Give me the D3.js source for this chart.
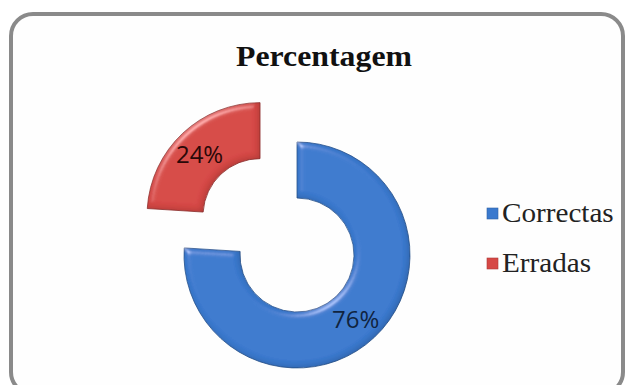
<!DOCTYPE html>
<html>
<head>
<meta charset="utf-8">
<script src="https://cdn.jsdelivr.net/npm/d3@7"></script>
<style>
  body { margin: 0; background: #fff; }
  svg { display: block; }
</style>
</head>
<body>
<svg id="chart" width="626" height="385"></svg>
<script>
// dados do gráfico
var categories = ["Correctas", "Erradas"];
var values = [76, 24];
var colors = ["#3A79CE", "#D64845"];
var title = "Percentagem";

var width = 626, height = 385;
var svg = d3.select("#chart");

// moldura arredondada
svg.append("rect")
    .attr("x", 11).attr("y", 14)
    .attr("width", 612).attr("height", 380)
    .attr("rx", 22).attr("ry", 22)
    .style("fill", "#fefefe")
    .style("stroke", "#8a8a8a")
    .style("stroke-width", 4);

// titulo (fonte um pouco esticada na horizontal como no original)
svg.append("text")
    .attr("transform", "translate(324,66) scale(1.06,1)")
    .attr("text-anchor", "middle")
    .style("font-family", "'Liberation Serif', 'Times New Roman', serif")
    .style("font-weight", "bold")
    .style("font-size", "30px")
    .style("fill", "#111")
    .text(title);

// filtro de bisel (efeito 3D)
var defs = svg.append("defs");
var bevel = defs.append("filter").attr("id", "bevel")
    .attr("x", "-10%").attr("y", "-10%").attr("width", "120%").attr("height", "120%");
bevel.append("feGaussianBlur").attr("in", "SourceAlpha").attr("stdDeviation", 3).attr("result", "blur");
bevel.append("feSpecularLighting")
    .attr("in", "blur").attr("surfaceScale", 4).attr("specularConstant", 0.7)
    .attr("specularExponent", 30).attr("lighting-color", "#ffffff").attr("result", "spec")
    .append("feDistantLight").attr("azimuth", 235).attr("elevation", 35);
bevel.append("feComposite").attr("in", "spec").attr("in2", "SourceAlpha")
    .attr("operator", "in").attr("result", "specOut");
// sombra interior nas bordas
bevel.append("feOffset").attr("in", "blur").attr("dx", -2).attr("dy", -2).attr("result", "offBlur");
bevel.append("feComposite").attr("in", "SourceAlpha").attr("in2", "offBlur")
    .attr("operator", "out").attr("result", "inner");
bevel.append("feFlood").attr("flood-color", "#000").attr("flood-opacity", 0.35);
bevel.append("feComposite").attr("in2", "inner").attr("operator", "in").attr("result", "shadow");
bevel.append("feComposite").attr("in", "shadow").attr("in2", "SourceGraphic")
    .attr("operator", "atop").attr("result", "shaded");
bevel.append("feComposite").attr("in", "shaded").attr("in2", "specOut")
    .attr("operator", "arithmetic").attr("k1", 0).attr("k2", 1).attr("k3", 0.45).attr("k4", 0);

var cx = 297, cy = 255, rOuter = 113, rInner = 57, explode = 54;

var pie = d3.pie().sort(null).value(function (d) { return d; });
var arc = d3.arc().innerRadius(rInner).outerRadius(rOuter);
var arcs = pie(values);

var g = svg.append("g").attr("transform", "translate(" + cx + "," + cy + ")");

var slices = g.selectAll("g.slice")
    .data(arcs)
    .enter()
    .append("g")
    .attr("class", "slice")
    .attr("transform", function (d, i) {
        if (i === 0) return null;
        var a = (d.startAngle + d.endAngle) / 2;
        return "translate(" + (Math.sin(a) * explode) + "," + (-Math.cos(a) * explode) + ")";
    });

slices.append("path")
    .attr("d", arc)
    .style("fill", function (d, i) { return colors[i]; })
    .style("stroke", function (d, i) { return d3.color(colors[i]).darker(1); })
    .style("stroke-width", 0.8)
    .attr("filter", "url(#bevel)");

// rótulos de percentagem
var labelPos = [
    { a: 2.40, r: 87 },   // 76%
    { a: -0.78, r: 86 }   // 24%
];
slices.append("text")
    .attr("x", function (d, i) { return Math.sin(labelPos[i].a) * labelPos[i].r; })
    .attr("y", function (d, i) { return -Math.cos(labelPos[i].a) * labelPos[i].r; })
    .attr("text-anchor", "middle")
    .attr("dy", "0.36em")
    .style("font-family", "'Open Sans', 'Liberation Sans', sans-serif")
    .style("font-size", "24px")
    .style("fill", function (d, i) { return i === 0 ? "#10243f" : "#2a0808"; })
    .text(function (d) { return d.data + "%"; });

// legenda
var legend = svg.append("g").attr("transform", "translate(487,208)");
var items = legend.selectAll("g")
    .data(categories)
    .enter()
    .append("g")
    .attr("transform", function (d, i) { return "translate(0," + (i * 50) + ")"; });

items.append("rect")
    .attr("width", 11).attr("height", 11)
    .style("fill", function (d, i) { return colors[i]; })
    .style("stroke", function (d, i) { return d3.color(colors[i]).darker(0.6); })
    .style("stroke-width", 0.6);

items.append("text")
    .attr("transform", "translate(15,14) scale(1.08,1)")
    .style("font-family", "'Liberation Serif', 'Times New Roman', serif")
    .style("font-size", "27px")
    .style("fill", "#222")
    .text(function (d) { return d; });
</script>
</body>
</html>
